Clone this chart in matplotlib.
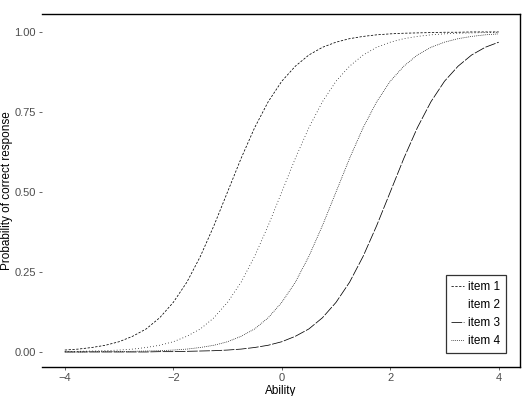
import matplotlib
matplotlib.use("Agg")
import matplotlib.pyplot as plt
import numpy as np

plt.rcParams['font.family'] = ['Liberation Sans', 'DejaVu Sans']

# ability grid (read every 0.25)
ability = np.arange(-4, 4.001, 0.25)

item1 = [0.006, 0.009, 0.014, 0.021, 0.032, 0.049, 0.072, 0.107, 0.155, 0.218,
         0.299, 0.395, 0.500, 0.605, 0.701, 0.782, 0.846, 0.893, 0.928, 0.952,
         0.968, 0.979, 0.986, 0.991, 0.994, 0.996, 0.997, 0.998, 0.999, 0.999,
         1.000, 1.000, 1.000]
item2 = [0.001, 0.002, 0.003, 0.004, 0.006, 0.009, 0.014, 0.021, 0.032, 0.049,
         0.072, 0.107, 0.155, 0.218, 0.299, 0.395, 0.500, 0.605, 0.701, 0.782,
         0.846, 0.893, 0.928, 0.952, 0.968, 0.979, 0.986, 0.991, 0.994, 0.996,
         0.997, 0.998, 0.999]
item3 = [0.000, 0.000, 0.000, 0.000, 0.000, 0.000, 0.000, 0.001, 0.001, 0.002,
         0.003, 0.004, 0.006, 0.009, 0.014, 0.021, 0.032, 0.049, 0.072, 0.107,
         0.155, 0.218, 0.299, 0.395, 0.500, 0.605, 0.701, 0.782, 0.846, 0.893,
         0.928, 0.952, 0.968]
item4 = [0.000, 0.000, 0.001, 0.001, 0.001, 0.002, 0.003, 0.004, 0.006, 0.009,
         0.014, 0.021, 0.032, 0.049, 0.072, 0.107, 0.155, 0.218, 0.299, 0.395,
         0.500, 0.605, 0.701, 0.782, 0.846, 0.893, 0.928, 0.952, 0.968, 0.979,
         0.986, 0.991, 0.994]

labels = ['item 1', 'item 2', 'item 3', 'item 4']
series = [item1, item2, item3, item4]
styles = [(0, (3, 2)), (0, (1, 3)), (0, (14, 2)), (0, (1, 1.5))]

fig = plt.figure(figsize=(5.22, 3.96), dpi=100)
ax = fig.add_axes([0.0805, 0.0732, 0.9155, 0.8914])

for vals, lab, ls in zip(series, labels, styles):
    ax.plot(ability, vals, color='black', linewidth=0.55, linestyle=ls, label=lab)

ax.set_xlim(-4.42, 4.39)
ax.set_ylim(-0.047, 1.056)
ax.set_xticks([-4, -2, 0, 2, 4])
ax.set_yticks([0, 0.25, 0.5, 0.75, 1.0])
ax.set_yticklabels(['0.00', '0.25', '0.50', '0.75', '1.00'])
ax.tick_params(axis='both', colors='#4D4D4D', labelsize=8, length=2.5, width=0.6, pad=2)

ax.spines['left'].set_visible(False)
for s in ['top', 'right', 'bottom']:
    ax.spines[s].set_linewidth(1.0)
    ax.spines[s].set_color('black')

ax.set_xlabel('Ability', fontsize=8.5, labelpad=1)
ax.set_ylabel('Probability of correct response', fontsize=8.5, labelpad=1)

leg = ax.legend(loc='lower right', bbox_to_anchor=(0.971, 0.04), borderaxespad=0,
                fontsize=8.5, frameon=True, fancybox=False, handlelength=1.1,
                handletextpad=0.3, labelspacing=0.5, borderpad=0.5)
leg.get_frame().set_edgecolor('black')
leg.get_frame().set_linewidth(0.9)
leg.get_lines()[1].set_visible(False)

fig.savefig('out.png', dpi=100)
